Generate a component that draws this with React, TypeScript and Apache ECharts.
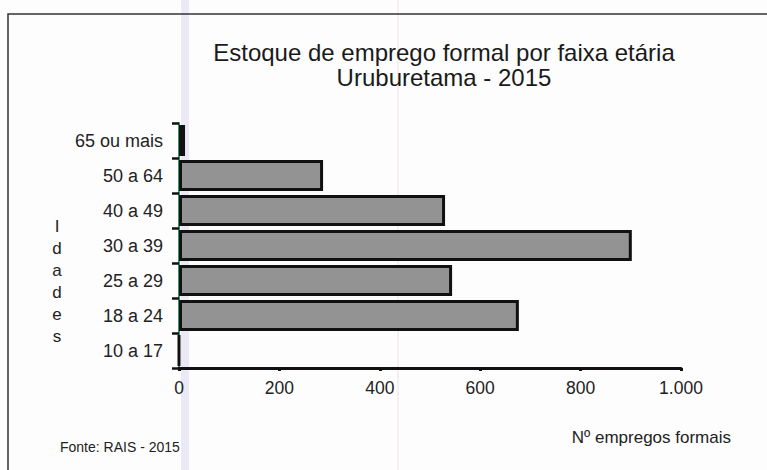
import React, { useEffect, useRef } from "react";
import * as echarts from "echarts";

const categories = ["10 a 17", "18 a 24", "25 a 29", "30 a 39", "40 a 49", "50 a 64", "65 ou mais"];
const values = [0, 677, 544, 902, 530, 287, 12];
const xTicks = { min: 0, max: 1000, interval: 200 };
const titleLines = ["Estoque de emprego formal por faixa etária", "Uruburetama - 2015"];
const yAxisName = "Idades";
const xAxisName = "Nº empregos formais";
const sourceNote = "Fonte: RAIS - 2015";

const FONT = "'Liberation Sans', Arial, sans-serif";

export default function App() {
  const ref = useRef<HTMLDivElement>(null);
  useEffect(() => {
    if (!ref.current) return;
    document.body.style.margin = "0";
    const chart = echarts.init(ref.current, undefined, { renderer: "svg" });
    chart.setOption({
      animation: false,
      backgroundColor: "#fdfdfd",
      textStyle: { fontFamily: FONT },
      grid: { left: 179, right: 86, top: 123, bottom: 102, containLabel: false },
      xAxis: {
        type: "value",
        min: xTicks.min,
        max: xTicks.max,
        interval: xTicks.interval,
        axisLine: { show: true, lineStyle: { color: "#111", width: 3 } },
        axisTick: { show: true, length: 3, lineStyle: { color: "#111", width: 3 } },
        splitLine: { show: false },
        axisLabel: {
          color: "#222",
          fontSize: 17.5,
          fontFamily: FONT,
          margin: 11,
          formatter: (v: number) => (v >= 1000 ? (v / 1000).toFixed(0) + "." + String(v % 1000).padStart(3, "0") : String(v)),
        },
      },
      yAxis: {
        type: "category",
        data: categories,
        axisLine: { show: true, onZero: false, lineStyle: { color: "#2f9a68", width: 2 } },
        axisTick: { show: true, length: 7, lineStyle: { color: "#111", width: 2.5 } },
        axisLabel: { color: "#222", fontSize: 18, fontFamily: FONT, margin: 16 },
        splitLine: { show: false },
      },
      graphic: [
        { type: "rect", silent: true, z: -10, shape: { x: 181, y: 0, width: 8, height: 470 }, style: { fill: "rgba(200,190,235,0.3)" } },
        { type: "line", silent: true, z: -10, shape: { x1: 398, y1: 0, x2: 398, y2: 470 }, style: { stroke: "rgba(235,205,225,0.6)", lineWidth: 1 } },
        { type: "polyline", silent: true, shape: { points: [[8, 470], [8, 14], [767, 14]] }, style: { stroke: "#333", lineWidth: 1.5, fill: "none" } },
        {
          type: "text",
          x: 444,
          y: 40,
          style: {
            text: titleLines.join("\n"),
            textAlign: "center",
            textVerticalAlign: "top",
            fontSize: 24,
            lineHeight: 25,
            fontFamily: FONT,
            fill: "#1a1a1a",
          },
        },
        {
          type: "text",
          x: 57,
          y: 215,
          style: {
            text: yAxisName.split("").join("\n"),
            textAlign: "center",
            textVerticalAlign: "top",
            fontSize: 17,
            lineHeight: 22,
            fontFamily: FONT,
            fill: "#222",
          },
        },
        {
          type: "text",
          x: 731,
          y: 437,
          style: { text: xAxisName, textAlign: "right", textVerticalAlign: "middle", fontSize: 17, fontFamily: FONT, fill: "#222" },
        },
        {
          type: "text",
          x: 60,
          y: 447,
          style: { text: sourceNote, textAlign: "left", textVerticalAlign: "middle", fontSize: 14, fontFamily: FONT, fill: "#222" },
        },
      ],
      series: [
        {
          type: "bar",
          data: values,
          barWidth: 31,
          itemStyle: { color: "#939393", borderColor: "#111", borderWidth: 3 },
        },
      ],
    });
    return () => chart.dispose();
  }, []);
  return <div ref={ref} style={{ width: 767, height: 470 }} />;
}
